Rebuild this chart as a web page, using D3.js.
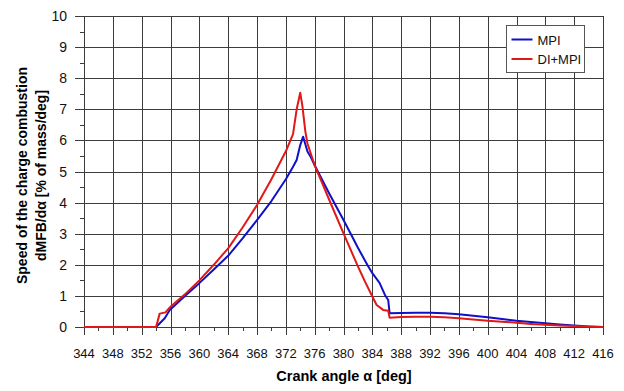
<!DOCTYPE html>
<html>
<head>
<meta charset="utf-8">
<script src="https://cdn.jsdelivr.net/npm/d3@7"></script>
<style>
  body { margin: 0; background: #fff; }
  svg { font-family: "Liberation Sans", Arial, sans-serif; }
</style>
</head>
<body>
<div id="chart"></div>
<script>
// crank angle / speed of combustion
var mpiAngle = [344, 354, 355.2, 355.9, 358, 360, 362, 364, 366, 368, 370, 372, 373, 373.5, 374, 374.4, 375, 375.5, 376, 378, 380, 381, 382, 383.3, 384, 385, 385.75, 386.2, 386.4, 388, 390, 392, 394, 396, 398, 400, 402, 404, 406, 408, 410, 412, 414, 416];
var mpiValue = [0, 0, 0.28, 0.55, 1.0, 1.41, 1.85, 2.29, 2.85, 3.44, 4.05, 4.75, 5.15, 5.37, 5.85, 6.12, 5.64, 5.45, 5.2, 4.3, 3.44, 3.0, 2.55, 2.0, 1.73, 1.42, 1.03, 0.87, 0.44, 0.45, 0.46, 0.46, 0.44, 0.41, 0.36, 0.31, 0.26, 0.2, 0.16, 0.12, 0.08, 0.05, 0.02, 0];

var dimpiAngle = [344, 354, 354.5, 355.3, 356, 358, 360, 362, 364, 366, 368, 370, 372, 373, 373.5, 374, 374.3, 374.7, 375, 376, 377, 378, 380, 382, 383, 384, 384.6, 385.5, 386.2, 386.4, 388, 390, 392, 394, 396, 398, 400, 402, 404, 406, 408, 410, 412, 414, 416];
var dimpiValue = [0, 0, 0.43, 0.47, 0.65, 1.05, 1.5, 2.0, 2.53, 3.2, 3.92, 4.75, 5.65, 6.2, 7.0, 7.53, 7.1, 6.3, 5.9, 5.2, 4.65, 4.1, 3.01, 1.95, 1.45, 0.98, 0.71, 0.55, 0.52, 0.3, 0.32, 0.33, 0.33, 0.31, 0.28, 0.24, 0.2, 0.17, 0.14, 0.1, 0.07, 0.05, 0.03, 0.01, 0];

var xTicks = d3.range(344, 417, 4);
var yTicks = d3.range(0, 11, 1);
var seriesNames = ["MPI", "DI+MPI"];
var seriesColors = ["#1010c8", "#e01818"];

var svgWidth = 624;
var svgHeight = 391;

var margin = { top: 16, right: 21, bottom: 64, left: 84 };

var svg = d3.select("#chart")
  .append("svg")
  .attr("width", svgWidth)
  .attr("height", svgHeight);

var x = d3.scaleLinear()
  .domain([344, 416])
  .range([margin.left, svgWidth - margin.right]);

var y = d3.scaleLinear()
  .domain([0, 10])
  .range([svgHeight - margin.bottom, margin.top]);

var gridColor = "#3c3c3c";
var grid = svg.append("g");

// horizontal grid lines (extend left as major ticks)
grid.selectAll(".hgrid")
  .data(yTicks)
  .enter()
  .append("line")
  .attr("x1", x(344) - 9)
  .attr("x2", x(416))
  .attr("y1", d => Math.round(y(d)) + 0.5)
  .attr("y2", d => Math.round(y(d)) + 0.5)
  .attr("stroke", gridColor)
  .attr("stroke-width", 1);

// minor y ticks
grid.selectAll(".yminor")
  .data(d3.range(0.5, 10, 1))
  .enter()
  .append("line")
  .attr("x1", x(344) - 4)
  .attr("x2", x(344))
  .attr("y1", d => Math.round(y(d)) + 0.5)
  .attr("y2", d => Math.round(y(d)) + 0.5)
  .attr("stroke", gridColor);

// vertical grid lines (extend below as major ticks)
grid.selectAll(".vgrid")
  .data(xTicks)
  .enter()
  .append("line")
  .attr("x1", d => Math.round(x(d)) + 0.5)
  .attr("x2", d => Math.round(x(d)) + 0.5)
  .attr("y1", y(10))
  .attr("y2", y(0) + 8)
  .attr("stroke", gridColor)
  .attr("stroke-width", 1);

// minor x ticks
grid.selectAll(".xminor")
  .data(d3.range(346, 416, 4))
  .enter()
  .append("line")
  .attr("x1", d => Math.round(x(d)) + 0.5)
  .attr("x2", d => Math.round(x(d)) + 0.5)
  .attr("y1", y(0))
  .attr("y2", y(0) + 4)
  .attr("stroke", gridColor);

// tick labels
svg.append("g").selectAll("text")
  .data(xTicks)
  .enter()
  .append("text")
  .attr("x", d => x(d))
  .attr("y", 358)
  .attr("text-anchor", "middle")
  .style("font-size", "13px")
  .attr("fill", "#111")
  .text(d => d);

svg.append("g").selectAll("text")
  .data(yTicks)
  .enter()
  .append("text")
  .attr("x", 67)
  .attr("y", d => y(d) + 5)
  .attr("text-anchor", "end")
  .style("font-size", "14px")
  .attr("fill", "#111")
  .text(d => d);

// axis titles
svg.append("text")
  .attr("x", 344)
  .attr("y", 381)
  .attr("text-anchor", "middle")
  .style("font-size", "14.5px")
  .style("font-weight", "bold")
  .text("Crank angle \u03b1 [deg]");

var yMid = (y(0) + y(10)) / 2 + 4;
svg.append("text")
  .attr("transform", `translate(27, ${yMid}) rotate(-90)`)
  .attr("text-anchor", "middle")
  .style("font-size", "14px")
  .style("font-weight", "bold")
  .text("Speed of the charge combustion");

svg.append("text")
  .attr("transform", `translate(46, ${yMid}) rotate(-90)`)
  .attr("text-anchor", "middle")
  .style("font-size", "14px")
  .style("font-weight", "bold")
  .text("dMFB/d\u03b1 [% of mass/deg]");

// curves
var line = d3.line()
  .x(d => x(d[0]))
  .y(d => y(d[1]));

var mpiData = mpiAngle.map((a, i) => [a, mpiValue[i]]);
var dimpiData = dimpiAngle.map((a, i) => [a, dimpiValue[i]]);

svg.append("path")
  .datum(mpiData)
  .attr("d", line)
  .attr("fill", "none")
  .attr("stroke", seriesColors[0])
  .attr("stroke-width", 2)
  .attr("stroke-linejoin", "round");

svg.append("path")
  .datum(dimpiData)
  .attr("d", line)
  .attr("fill", "none")
  .attr("stroke", seriesColors[1])
  .attr("stroke-width", 2)
  .attr("stroke-linejoin", "round");

// legend
var legend = svg.append("g")
  .attr("transform", "translate(506.5, 25.5)");

legend.append("rect")
  .attr("width", 78)
  .attr("height", 47)
  .attr("fill", "#fff")
  .attr("stroke", "#555");

seriesNames.forEach(function(name, i) {
  legend.append("line")
    .attr("x1", 5)
    .attr("x2", 26)
    .attr("y1", 14 + i * 19.5)
    .attr("y2", 14 + i * 19.5)
    .attr("stroke", seriesColors[i])
    .attr("stroke-width", 2);
  legend.append("text")
    .attr("x", 31)
    .attr("y", 19 + i * 19.5)
    .style("font-size", "13px")
    .attr("fill", "#111")
    .text(name);
});
</script>
</body>
</html>
